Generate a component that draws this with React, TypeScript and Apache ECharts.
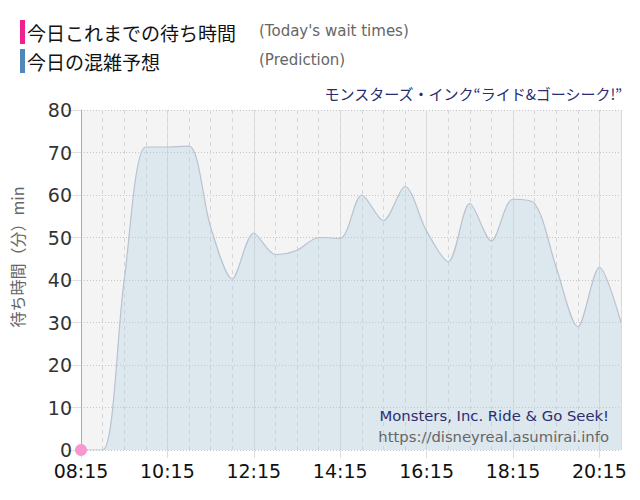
import { useEffect, useRef } from 'react';
import * as echarts from 'echarts';

// minutes since 08:15, prediction every 30 min
const TIMES = [0, 30, 60, 90, 120, 150, 180, 210, 240, 270, 300, 330, 360, 390, 420, 450, 480, 510, 540, 570, 600, 630, 660, 690, 720, 750];
const PREDICTION = [0, 0, 40, 71.3, 71.3, 71.5, 52.5, 40.3, 51, 46, 47, 50, 49.8, 60, 54, 62, 51.5, 44.3, 58, 49.2, 59, 58, 43, 29, 43, 30];
const TODAY_TIMES = [0];
const TODAY_WAITS = [0];

const START_MIN = 8 * 60 + 15;
const Y_NAME = '待ち時間（分）min';
const TITLE = 'モンスターズ・インク“ライド&ゴーシーク!”';

const fmtTime = (v: number) => {
  const m = START_MIN + v;
  const h = Math.floor(m / 60);
  const mm = m % 60;
  return `${String(h).padStart(2, '0')}:${String(mm).padStart(2, '0')}`;
};

const JP = '"Noto Sans CJK JP", sans-serif';
const LAT = '"DejaVu Sans", Verdana, sans-serif';

export default function App() {
  const ref = useRef<HTMLDivElement>(null);

  useEffect(() => {
    document.body.style.margin = '0';
    if (!ref.current) return;
    const chart = echarts.init(ref.current, undefined, { renderer: 'svg' });
    chart.setOption({
      animation: false,
      backgroundColor: '#ffffff',
      grid: {
        left: 81,
        right: 19,
        top: 110,
        bottom: 50,
        show: true,
        backgroundColor: '#f4f4f4',
        borderWidth: 0,
      },
      xAxis: [
        {
          type: 'value',
          min: 0,
          max: 750,
          interval: 120,
          axisLine: { show: false },
          axisTick: { show: true, length: 8, lineStyle: { color: '#dcdcdc' } },
          axisLabel: {
            formatter: (v: number) => fmtTime(v),
            color: '#111',
            fontSize: 19,
            fontFamily: LAT,
            margin: 11,
            showMaxLabel: false,
          },
          splitLine: { show: true, lineStyle: { color: '#dddddd', type: 'solid', width: 1 } },
        },
        {
          type: 'value',
          min: 0,
          max: 750,
          interval: 30,
          position: 'bottom',
          axisLine: { show: false },
          axisTick: { show: false },
          axisLabel: { show: false },
          splitLine: { show: true, lineStyle: { color: '#d6d6d6', type: [4, 4], width: 1 } },
        },
      ],
      yAxis: {
        type: 'value',
        min: 0,
        max: 80,
        interval: 10,
        axisLine: { show: true, lineStyle: { color: '#a8a8b0' } },
        axisTick: { show: true, length: 15, lineStyle: { color: '#e0e0e0' } },
        axisLabel: { color: '#333', fontSize: 19, fontFamily: LAT, margin: 9 },
        splitLine: { show: true, lineStyle: { color: '#c4c4c4', type: [1, 2] } },
      },
      series: [
        {
          name: '今日の混雑予想',
          type: 'line',
          xAxisIndex: 0,
          data: TIMES.map((t, i) => [t, PREDICTION[i]]),
          smooth: 0.3,
          showSymbol: false,
          lineStyle: { color: '#b7c3cf', width: 1.2 },
          areaStyle: { color: 'rgba(176,206,226,0.5)' },
          z: 2,
        },
        {
          name: '今日これまでの待ち時間',
          type: 'line',
          xAxisIndex: 0,
          data: TODAY_TIMES.map((t, i) => [t, TODAY_WAITS[i]]),
          symbol: 'circle',
          symbolSize: 12,
          clip: false,
          itemStyle: { color: '#f697cf' },
          lineStyle: { color: '#f0258f' },
          z: 5,
        },
      ],
      graphic: [
        { type: 'rect', shape: { x: 20, y: 20, width: 5, height: 24 }, style: { fill: '#f0208f' } },
        { type: 'rect', shape: { x: 20, y: 49, width: 5, height: 24 }, style: { fill: '#4f87b9' } },
        {
          type: 'text',
          x: 27,
          y: 32,
          style: { text: '今日これまでの待ち時間', fill: '#111', fontSize: 19, fontFamily: JP, verticalAlign: 'middle' },
        },
        {
          type: 'text',
          x: 27,
          y: 61,
          style: { text: '今日の混雑予想', fill: '#111', fontSize: 19, fontFamily: JP, verticalAlign: 'middle' },
        },
        {
          type: 'text',
          x: 259,
          y: 31,
          style: { text: "(Today's wait times)", fill: '#666', fontSize: 15, fontFamily: LAT, verticalAlign: 'middle' },
        },
        {
          type: 'text',
          x: 259,
          y: 60,
          style: { text: '(Prediction)', fill: '#666', fontSize: 15, fontFamily: LAT, verticalAlign: 'middle' },
        },
        {
          type: 'text',
          x: 622,
          y: 93,
          style: { text: TITLE, fill: '#2b2b70', fontSize: 15, fontFamily: JP, align: 'right', verticalAlign: 'middle' },
        },
        {
          type: 'text',
          x: 17,
          y: 257,
          rotation: Math.PI / 2,
          style: { text: Y_NAME, fill: '#666', fontSize: 16, fontFamily: JP, align: 'center', verticalAlign: 'middle' },
        },
        {
          type: 'text',
          x: 609,
          y: 415,
          z: 10,
          style: { text: 'Monsters, Inc. Ride & Go Seek!', fill: '#2d2d6e', fontSize: 14.8, fontFamily: LAT, align: 'right', verticalAlign: 'middle' },
        },
        {
          type: 'text',
          x: 609,
          y: 436,
          z: 10,
          style: { text: 'https://disneyreal.asumirai.info', fill: '#666', fontSize: 14.8, fontFamily: LAT, align: 'right', verticalAlign: 'middle' },
        },
      ],
    });
    return () => chart.dispose();
  }, []);

  return <div ref={ref} style={{ width: 640, height: 500 }} />;
}
